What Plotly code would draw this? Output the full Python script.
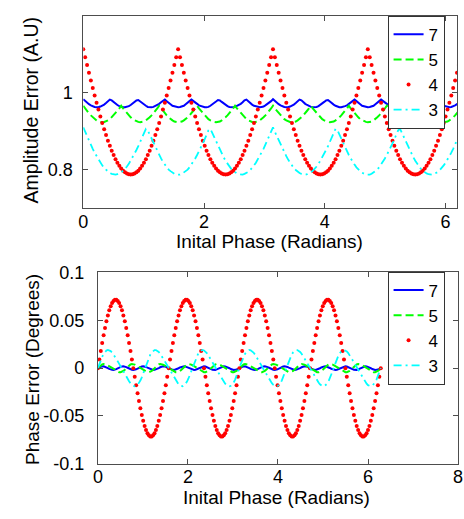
import plotly.graph_objects as go

# Initial phase samples (radians), 0 .. 2*pi
phase = [
    0, 0.031, 0.063, 0.094, 0.126, 0.157, 0.188, 0.220, 0.251, 0.283,
    0.314, 0.346, 0.377, 0.408, 0.440, 0.471, 0.503, 0.534, 0.565, 0.597,
    0.628, 0.660, 0.691, 0.723, 0.754, 0.785, 0.817, 0.848, 0.880, 0.911,
    0.942, 0.974, 1.005, 1.037, 1.068, 1.100, 1.131, 1.162, 1.194, 1.225,
    1.257, 1.288, 1.319, 1.351, 1.382, 1.414, 1.445, 1.477, 1.508, 1.539,
    1.571, 1.602, 1.634, 1.665, 1.696, 1.728, 1.759, 1.791, 1.822, 1.854,
    1.885, 1.916, 1.948, 1.979, 2.011, 2.042, 2.073, 2.105, 2.136, 2.168,
    2.199, 2.231, 2.262, 2.293, 2.325, 2.356, 2.388, 2.419, 2.450, 2.482,
    2.513, 2.545, 2.576, 2.608, 2.639, 2.670, 2.702, 2.733, 2.765, 2.796,
    2.827, 2.859, 2.890, 2.922, 2.953, 2.985, 3.016, 3.047, 3.079, 3.110,
    3.142, 3.173, 3.204, 3.236, 3.267, 3.299, 3.330, 3.362, 3.393, 3.424,
    3.456, 3.487, 3.519, 3.550, 3.581, 3.613, 3.644, 3.676, 3.707, 3.738,
    3.770, 3.801, 3.833, 3.864, 3.896, 3.927, 3.958, 3.990, 4.021, 4.053,
    4.084, 4.115, 4.147, 4.178, 4.210, 4.241, 4.273, 4.304, 4.335, 4.367,
    4.398, 4.430, 4.461, 4.492, 4.524, 4.555, 4.587, 4.618, 4.650, 4.681,
    4.712, 4.744, 4.775, 4.807, 4.838, 4.869, 4.901, 4.932, 4.964, 4.995,
    5.027, 5.058, 5.089, 5.121, 5.152, 5.184, 5.215, 5.246, 5.278, 5.309,
    5.341, 5.372, 5.404, 5.435, 5.466, 5.498, 5.529, 5.561, 5.592, 5.623,
    5.655, 5.686, 5.718, 5.749, 5.781, 5.812, 5.843, 5.875, 5.906, 5.938,
    5.969, 6.000, 6.032, 6.063, 6.095, 6.126, 6.158, 6.189, 6.220, 6.252,
    6.283,
]

# Amplitude error (A.U), one list per number of samples
amp_7 = [
    0.983, 0.978, 0.974, 0.970, 0.967, 0.964, 0.963, 0.962, 0.962, 0.964,
    0.966, 0.969, 0.973, 0.977, 0.982, 0.980, 0.975, 0.971, 0.968, 0.965,
    0.963, 0.962, 0.962, 0.963, 0.965, 0.968, 0.972, 0.976, 0.980, 0.981,
    0.977, 0.972, 0.969, 0.966, 0.963, 0.962, 0.962, 0.963, 0.965, 0.967,
    0.971, 0.975, 0.979, 0.982, 0.978, 0.973, 0.970, 0.966, 0.964, 0.963,
    0.962,
    0.963, 0.964, 0.966, 0.970, 0.973, 0.978, 0.982, 0.979, 0.975, 0.971,
    0.967, 0.965, 0.963, 0.962, 0.962, 0.963, 0.966, 0.969, 0.972, 0.977,
    0.981, 0.980, 0.976, 0.972, 0.968, 0.965, 0.963, 0.962, 0.962, 0.963,
    0.965, 0.968, 0.971, 0.975, 0.980, 0.982, 0.977, 0.973, 0.969, 0.966,
    0.964, 0.962, 0.962, 0.963, 0.964, 0.967, 0.970, 0.974, 0.978, 0.983,
    0.978, 0.974, 0.970, 0.967, 0.964, 0.963, 0.962, 0.962, 0.964,
    0.966, 0.969, 0.973, 0.977, 0.982, 0.980, 0.975, 0.971, 0.968, 0.965,
    0.963, 0.962, 0.962, 0.963, 0.965, 0.968, 0.972, 0.976, 0.980, 0.981,
    0.977, 0.972, 0.969, 0.966, 0.963, 0.962, 0.962, 0.963, 0.965, 0.967,
    0.971, 0.975, 0.979, 0.982, 0.978, 0.973, 0.970, 0.966, 0.964, 0.963,
    0.962,
    0.963, 0.964, 0.966, 0.970, 0.973, 0.978, 0.982, 0.979, 0.975, 0.971,
    0.967, 0.965, 0.963, 0.962, 0.962, 0.963, 0.966, 0.969, 0.972, 0.977,
    0.981, 0.980, 0.976, 0.972, 0.968, 0.965, 0.963, 0.962, 0.962, 0.963,
    0.965, 0.968, 0.971, 0.975, 0.980, 0.982, 0.977, 0.973, 0.969, 0.966,
    0.964, 0.962, 0.962, 0.963, 0.964, 0.967, 0.970, 0.974, 0.978, 0.983,
]

amp_5 = [
    0.966, 0.959, 0.953, 0.946, 0.941, 0.936, 0.931, 0.928, 0.925, 0.924,
    0.923, 0.924, 0.925, 0.928, 0.931, 0.936, 0.941, 0.946, 0.953, 0.959,
    0.966, 0.959, 0.953, 0.946, 0.941, 0.936, 0.931, 0.928, 0.925, 0.924,
    0.923, 0.924, 0.925, 0.928, 0.931, 0.936, 0.941, 0.946, 0.953, 0.959,
    0.966, 0.959, 0.953, 0.946, 0.941, 0.936, 0.931, 0.928, 0.925, 0.924,
    0.923, 0.924, 0.925, 0.928, 0.931, 0.936, 0.941, 0.946, 0.953, 0.959,
    0.966, 0.959, 0.953, 0.946, 0.941, 0.936, 0.931, 0.928, 0.925, 0.924,
    0.923, 0.924, 0.925, 0.928, 0.931, 0.936, 0.941, 0.946, 0.953, 0.959,
    0.966, 0.959, 0.953, 0.946, 0.941, 0.936, 0.931, 0.928, 0.925, 0.924,
    0.923, 0.924, 0.925, 0.928, 0.931, 0.936, 0.941, 0.946, 0.953, 0.959,
    0.966, 0.959, 0.953, 0.946, 0.941, 0.936, 0.931, 0.928, 0.925, 0.924,
    0.923, 0.924, 0.925, 0.928, 0.931, 0.936, 0.941, 0.946, 0.953, 0.959,
    0.966, 0.959, 0.953, 0.946, 0.941, 0.936, 0.931, 0.928, 0.925, 0.924,
    0.923, 0.924, 0.925, 0.928, 0.931, 0.936, 0.941, 0.946, 0.953, 0.959,
    0.966, 0.959, 0.953, 0.946, 0.941, 0.936, 0.931, 0.928, 0.925, 0.924,
    0.923, 0.924, 0.925, 0.928, 0.931, 0.936, 0.941, 0.946, 0.953, 0.959,
    0.966, 0.959, 0.953, 0.946, 0.941, 0.936, 0.931, 0.928, 0.925, 0.924,
    0.923, 0.924, 0.925, 0.928, 0.931, 0.936, 0.941, 0.946, 0.953, 0.959,
    0.966, 0.959, 0.953, 0.946, 0.941, 0.936, 0.931, 0.928, 0.925, 0.924,
    0.923, 0.924, 0.925, 0.928, 0.931, 0.936, 0.941, 0.946, 0.953, 0.959,
    0.966,
]

amp_4 = [
    1.113, 1.092, 1.072, 1.052, 1.032, 1.012, 0.993, 0.974, 0.956, 0.938,
    0.921, 0.905, 0.890, 0.875, 0.862, 0.849, 0.838, 0.827, 0.818, 0.810,
    0.803, 0.797, 0.793, 0.790, 0.788, 0.787, 0.788, 0.790, 0.793, 0.797,
    0.803, 0.810, 0.818, 0.827, 0.838, 0.849, 0.862, 0.875, 0.890, 0.905,
    0.921, 0.938, 0.956, 0.974, 0.993, 1.012, 1.032, 1.052, 1.072, 1.092,
    1.113, 1.092, 1.072, 1.052, 1.032, 1.012, 0.993, 0.974, 0.956, 0.938,
    0.921, 0.905, 0.890, 0.875, 0.862, 0.849, 0.838, 0.827, 0.818, 0.810,
    0.803, 0.797, 0.793, 0.790, 0.788, 0.787, 0.788, 0.790, 0.793, 0.797,
    0.803, 0.810, 0.818, 0.827, 0.838, 0.849, 0.862, 0.875, 0.890, 0.905,
    0.921, 0.938, 0.956, 0.974, 0.993, 1.012, 1.032, 1.052, 1.072, 1.092,
    1.113, 1.092, 1.072, 1.052, 1.032, 1.012, 0.993, 0.974, 0.956, 0.938,
    0.921, 0.905, 0.890, 0.875, 0.862, 0.849, 0.838, 0.827, 0.818, 0.810,
    0.803, 0.797, 0.793, 0.790, 0.788, 0.787, 0.788, 0.790, 0.793, 0.797,
    0.803, 0.810, 0.818, 0.827, 0.838, 0.849, 0.862, 0.875, 0.890, 0.905,
    0.921, 0.938, 0.956, 0.974, 0.993, 1.012, 1.032, 1.052, 1.072, 1.092,
    1.113, 1.092, 1.072, 1.052, 1.032, 1.012, 0.993, 0.974, 0.956, 0.938,
    0.921, 0.905, 0.890, 0.875, 0.862, 0.849, 0.838, 0.827, 0.818, 0.810,
    0.803, 0.797, 0.793, 0.790, 0.788, 0.787, 0.788, 0.790, 0.793, 0.797,
    0.803, 0.810, 0.818, 0.827, 0.838, 0.849, 0.862, 0.875, 0.890, 0.905,
    0.921, 0.938, 0.956, 0.974, 0.993, 1.012, 1.032, 1.052, 1.072, 1.092,
    1.113,
]

amp_3 = [
    0.910, 0.898, 0.887, 0.876, 0.865, 0.854, 0.844, 0.835, 0.826, 0.818,
    0.811, 0.804, 0.799, 0.794, 0.791, 0.789, 0.787, 0.787, 0.788, 0.790,
    0.793, 0.797, 0.802, 0.808, 0.815, 0.823, 0.832, 0.841, 0.851, 0.861,
    0.872, 0.883, 0.895, 0.906, 0.902, 0.891, 0.879, 0.868, 0.858, 0.847,
    0.838, 0.829, 0.820, 0.813, 0.806, 0.800, 0.796, 0.792, 0.789, 0.787,
    0.787,
    0.787, 0.789, 0.792, 0.796, 0.800, 0.806, 0.813, 0.820, 0.829, 0.838,
    0.847, 0.858, 0.868, 0.879, 0.891, 0.902, 0.906, 0.895, 0.883, 0.872,
    0.861, 0.851, 0.841, 0.832, 0.823, 0.815, 0.808, 0.802, 0.797, 0.793,
    0.790, 0.788, 0.787, 0.787, 0.789, 0.791, 0.794, 0.799, 0.804, 0.811,
    0.818, 0.826, 0.835, 0.844, 0.854, 0.865, 0.876, 0.887, 0.898, 0.910,
    0.898, 0.887, 0.876, 0.865, 0.854, 0.844, 0.835, 0.826, 0.818,
    0.811, 0.804, 0.799, 0.794, 0.791, 0.789, 0.787, 0.787, 0.788, 0.790,
    0.793, 0.797, 0.802, 0.808, 0.815, 0.823, 0.832, 0.841, 0.851, 0.861,
    0.872, 0.883, 0.895, 0.906, 0.902, 0.891, 0.879, 0.868, 0.858, 0.847,
    0.838, 0.829, 0.820, 0.813, 0.806, 0.800, 0.796, 0.792, 0.789, 0.787,
    0.787,
    0.787, 0.789, 0.792, 0.796, 0.800, 0.806, 0.813, 0.820, 0.829, 0.838,
    0.847, 0.858, 0.868, 0.879, 0.891, 0.902, 0.906, 0.895, 0.883, 0.872,
    0.861, 0.851, 0.841, 0.832, 0.823, 0.815, 0.808, 0.802, 0.797, 0.793,
    0.790, 0.788, 0.787, 0.787, 0.789, 0.791, 0.794, 0.799, 0.804, 0.811,
    0.818, 0.826, 0.835, 0.844, 0.854, 0.865, 0.876, 0.887, 0.898, 0.910,
]

# Phase error (degrees)
ph_7 = [
    0, 0.0008, 0.0015, 0.0018, 0.0019, 0.0015, 0.0009, 0.0001, -0.0007, -0.0014,
    -0.0018, -0.0019, -0.0016, -0.0010, -0.0002, 0.0006, 0.0013, 0.0018, 0.0019, 0.0017,
    0.0011, 0.0004, -0.0005, -0.0012, -0.0017, -0.0019, -0.0017, -0.0012, -0.0005, 0.0004,
    0.0011, 0.0017, 0.0019, 0.0018, 0.0013, 0.0006, -0.0002, -0.0010, -0.0016, -0.0019,
    -0.0018, -0.0014, -0.0007, 0.0001, 0.0009, 0.0015, 0.0019, 0.0018, 0.0015, 0.0008,
    0,
    -0.0008, -0.0015, -0.0018, -0.0019, -0.0015, -0.0009, -0.0001, 0.0007, 0.0014, 0.0018,
    0.0019, 0.0016, 0.0010, 0.0002, -0.0006, -0.0013, -0.0018, -0.0019, -0.0017, -0.0011,
    -0.0004, 0.0005, 0.0012, 0.0017, 0.0019, 0.0017, 0.0012, 0.0005, -0.0004, -0.0011,
    -0.0017, -0.0019, -0.0018, -0.0013, -0.0006, 0.0002, 0.0010, 0.0016, 0.0019, 0.0018,
    0.0014, 0.0007, -0.0001, -0.0009, -0.0015, -0.0019, -0.0018, -0.0015, -0.0008, 0,
    0.0008, 0.0015, 0.0018, 0.0019, 0.0015, 0.0009, 0.0001, -0.0007, -0.0014,
    -0.0018, -0.0019, -0.0016, -0.0010, -0.0002, 0.0006, 0.0013, 0.0018, 0.0019, 0.0017,
    0.0011, 0.0004, -0.0005, -0.0012, -0.0017, -0.0019, -0.0017, -0.0012, -0.0005, 0.0004,
    0.0011, 0.0017, 0.0019, 0.0018, 0.0013, 0.0006, -0.0002, -0.0010, -0.0016, -0.0019,
    -0.0018, -0.0014, -0.0007, 0.0001, 0.0009, 0.0015, 0.0019, 0.0018, 0.0015, 0.0008,
    0,
    -0.0008, -0.0015, -0.0018, -0.0019, -0.0015, -0.0009, -0.0001, 0.0007, 0.0014, 0.0018,
    0.0019, 0.0016, 0.0010, 0.0002, -0.0006, -0.0013, -0.0018, -0.0019, -0.0017, -0.0011,
    -0.0004, 0.0005, 0.0012, 0.0017, 0.0019, 0.0017, 0.0012, 0.0005, -0.0004, -0.0011,
    -0.0017, -0.0019, -0.0018, -0.0013, -0.0006, 0.0002, 0.0010, 0.0016, 0.0019, 0.0018,
    0.0014, 0.0007, -0.0001, -0.0009, -0.0015, -0.0019, -0.0018, -0.0015, -0.0008, 0,
]

ph_5 = [
    0, 0.0016, 0.0029, 0.0039, 0.0043, 0.0042, 0.0037, 0.0029, 0.0020, 0.0010,
    0, -0.0010, -0.0020, -0.0029, -0.0037, -0.0042, -0.0043, -0.0039, -0.0029, -0.0016,
    0, 0.0016, 0.0029, 0.0039, 0.0043, 0.0042, 0.0037, 0.0029, 0.0020, 0.0010,
    0, -0.0010, -0.0020, -0.0029, -0.0037, -0.0042, -0.0043, -0.0039, -0.0029, -0.0016,
    0, 0.0016, 0.0029, 0.0039, 0.0043, 0.0042, 0.0037, 0.0029, 0.0020, 0.0010,
    0, -0.0010, -0.0020, -0.0029, -0.0037, -0.0042, -0.0043, -0.0039, -0.0029, -0.0016,
    0, 0.0016, 0.0029, 0.0039, 0.0043, 0.0042, 0.0037, 0.0029, 0.0020, 0.0010,
    0, -0.0010, -0.0020, -0.0029, -0.0037, -0.0042, -0.0043, -0.0039, -0.0029, -0.0016,
    0, 0.0016, 0.0029, 0.0039, 0.0043, 0.0042, 0.0037, 0.0029, 0.0020, 0.0010,
    0, -0.0010, -0.0020, -0.0029, -0.0037, -0.0042, -0.0043, -0.0039, -0.0029, -0.0016,
    0, 0.0016, 0.0029, 0.0039, 0.0043, 0.0042, 0.0037, 0.0029, 0.0020, 0.0010,
    0, -0.0010, -0.0020, -0.0029, -0.0037, -0.0042, -0.0043, -0.0039, -0.0029, -0.0016,
    0, 0.0016, 0.0029, 0.0039, 0.0043, 0.0042, 0.0037, 0.0029, 0.0020, 0.0010,
    0, -0.0010, -0.0020, -0.0029, -0.0037, -0.0042, -0.0043, -0.0039, -0.0029, -0.0016,
    0, 0.0016, 0.0029, 0.0039, 0.0043, 0.0042, 0.0037, 0.0029, 0.0020, 0.0010,
    0, -0.0010, -0.0020, -0.0029, -0.0037, -0.0042, -0.0043, -0.0039, -0.0029, -0.0016,
    0, 0.0016, 0.0029, 0.0039, 0.0043, 0.0042, 0.0037, 0.0029, 0.0020, 0.0010,
    0, -0.0010, -0.0020, -0.0029, -0.0037, -0.0042, -0.0043, -0.0039, -0.0029, -0.0016,
    0, 0.0016, 0.0029, 0.0039, 0.0043, 0.0042, 0.0037, 0.0029, 0.0020, 0.0010,
    0, -0.0010, -0.0020, -0.0029, -0.0037, -0.0042, -0.0043, -0.0039, -0.0029, -0.0016,
    0,
]

ph_4 = [
    0, 0.0090, 0.0178, 0.0263, 0.0344, 0.0420, 0.0489, 0.0551, 0.0604, 0.0647,
    0.0680, 0.0702, 0.0714, 0.0714, 0.0702, 0.0680, 0.0647, 0.0604, 0.0551, 0.0489,
    0.0420, 0.0344, 0.0263, 0.0178, 0.0090, 0, -0.0090, -0.0178, -0.0263, -0.0344,
    -0.0420, -0.0489, -0.0551, -0.0604, -0.0647, -0.0680, -0.0702, -0.0714, -0.0714, -0.0702,
    -0.0680, -0.0647, -0.0604, -0.0551, -0.0489, -0.0420, -0.0344, -0.0263, -0.0178, -0.0090,
    0, 0.0090, 0.0178, 0.0263, 0.0344, 0.0420, 0.0489, 0.0551, 0.0604, 0.0647,
    0.0680, 0.0702, 0.0714, 0.0714, 0.0702, 0.0680, 0.0647, 0.0604, 0.0551, 0.0489,
    0.0420, 0.0344, 0.0263, 0.0178, 0.0090, 0, -0.0090, -0.0178, -0.0263, -0.0344,
    -0.0420, -0.0489, -0.0551, -0.0604, -0.0647, -0.0680, -0.0702, -0.0714, -0.0714, -0.0702,
    -0.0680, -0.0647, -0.0604, -0.0551, -0.0489, -0.0420, -0.0344, -0.0263, -0.0178, -0.0090,
    0, 0.0090, 0.0178, 0.0263, 0.0344, 0.0420, 0.0489, 0.0551, 0.0604, 0.0647,
    0.0680, 0.0702, 0.0714, 0.0714, 0.0702, 0.0680, 0.0647, 0.0604, 0.0551, 0.0489,
    0.0420, 0.0344, 0.0263, 0.0178, 0.0090, 0, -0.0090, -0.0178, -0.0263, -0.0344,
    -0.0420, -0.0489, -0.0551, -0.0604, -0.0647, -0.0680, -0.0702, -0.0714, -0.0714, -0.0702,
    -0.0680, -0.0647, -0.0604, -0.0551, -0.0489, -0.0420, -0.0344, -0.0263, -0.0178, -0.0090,
    0, 0.0090, 0.0178, 0.0263, 0.0344, 0.0420, 0.0489, 0.0551, 0.0604, 0.0647,
    0.0680, 0.0702, 0.0714, 0.0714, 0.0702, 0.0680, 0.0647, 0.0604, 0.0551, 0.0489,
    0.0420, 0.0344, 0.0263, 0.0178, 0.0090, 0, -0.0090, -0.0178, -0.0263, -0.0344,
    -0.0420, -0.0489, -0.0551, -0.0604, -0.0647, -0.0680, -0.0702, -0.0714, -0.0714, -0.0702,
    -0.0680, -0.0647, -0.0604, -0.0551, -0.0489, -0.0420, -0.0344, -0.0263, -0.0178, -0.0090,
    0,
]

ph_3 = [
    0, 0.0043, 0.0083, 0.0119, 0.0149, 0.0171, 0.0184, 0.0190, 0.0187, 0.0178,
    0.0163, 0.0144, 0.0121, 0.0096, 0.0071, 0.0044, 0.0018, -0.0009, -0.0035, -0.0062,
    -0.0088, -0.0113, -0.0136, -0.0157, -0.0174, -0.0185, -0.0190, -0.0187, -0.0176, -0.0157,
    -0.0130, -0.0096, -0.0057, -0.0014, 0.0029, 0.0070, 0.0108, 0.0140, 0.0164, 0.0181,
    0.0189, 0.0189, 0.0182, 0.0169, 0.0150, 0.0129, 0.0105, 0.0079, 0.0053, 0.0027,
    0,
    -0.0027, -0.0053, -0.0079, -0.0105, -0.0129, -0.0150, -0.0169, -0.0182, -0.0189, -0.0189,
    -0.0181, -0.0164, -0.0140, -0.0108, -0.0070, -0.0029, 0.0014, 0.0057, 0.0096, 0.0130,
    0.0157, 0.0176, 0.0187, 0.0190, 0.0185, 0.0174, 0.0157, 0.0136, 0.0113, 0.0088,
    0.0062, 0.0035, 0.0009, -0.0018, -0.0044, -0.0071, -0.0096, -0.0121, -0.0144, -0.0163,
    -0.0178, -0.0187, -0.0190, -0.0184, -0.0171, -0.0149, -0.0119, -0.0083, -0.0043, 0,
    0.0043, 0.0083, 0.0119, 0.0149, 0.0171, 0.0184, 0.0190, 0.0187, 0.0178,
    0.0163, 0.0144, 0.0121, 0.0096, 0.0071, 0.0044, 0.0018, -0.0009, -0.0035, -0.0062,
    -0.0088, -0.0113, -0.0136, -0.0157, -0.0174, -0.0185, -0.0190, -0.0187, -0.0176, -0.0157,
    -0.0130, -0.0096, -0.0057, -0.0014, 0.0029, 0.0070, 0.0108, 0.0140, 0.0164, 0.0181,
    0.0189, 0.0189, 0.0182, 0.0169, 0.0150, 0.0129, 0.0105, 0.0079, 0.0053, 0.0027,
    0,
    -0.0027, -0.0053, -0.0079, -0.0105, -0.0129, -0.0150, -0.0169, -0.0182, -0.0189, -0.0189,
    -0.0181, -0.0164, -0.0140, -0.0108, -0.0070, -0.0029, 0.0014, 0.0057, 0.0096, 0.0130,
    0.0157, 0.0176, 0.0187, 0.0190, 0.0185, 0.0174, 0.0157, 0.0136, 0.0113, 0.0088,
    0.0062, 0.0035, 0.0009, -0.0018, -0.0044, -0.0071, -0.0096, -0.0121, -0.0144, -0.0163,
    -0.0178, -0.0187, -0.0190, -0.0184, -0.0171, -0.0149, -0.0119, -0.0083, -0.0043, 0,
]

series_names = ["7", "5", "4", "3"]
top_x_ticks = [0, 2, 4, 6]
top_y_ticks = [0.8, 1.0]
top_y_labels = ["0.8", "1"]
bot_x_ticks = [0, 2, 4, 6, 8]
bot_y_ticks = [-0.1, -0.05, 0, 0.05, 0.1]
bot_y_labels = ["-0.1", "-0.05", "0", "0.05", "0.1"]

for s in (amp_7, amp_5, amp_4, amp_3, ph_7, ph_5, ph_4, ph_3):
    assert len(s) == len(phase), len(s)

W, H = 464, 519


def px(xp):
    return xp / W


def py(yp):
    return 1 - yp / H


FONT = "Liberation Sans, Arial, Helvetica, sans-serif"
AXC = "#4d4d4d"

styles = {
    "7": dict(mode="lines", line=dict(color="#0000ff", width=2)),
    "5": dict(mode="lines", line=dict(color="#00ff00", width=2, dash="8px,4px")),
    "4": dict(mode="markers", marker=dict(color="#ff0000", size=4, symbol="circle")),
    "3": dict(mode="lines", line=dict(color="#00ffff", width=1.8, dash="8px,4px,2px,4px")),
}

fig = go.Figure()
for name, ys in zip(series_names, (amp_7, amp_5, amp_4, amp_3)):
    fig.add_trace(go.Scatter(x=phase, y=ys, name=name, xaxis="x", yaxis="y",
                             legend="legend", **styles[name]))
for name, ys in zip(series_names, (ph_7, ph_5, ph_4, ph_3)):
    fig.add_trace(go.Scatter(x=phase, y=ys, name=name, xaxis="x2", yaxis="y2",
                             legend="legend2", **styles[name]))

axis_common = dict(showline=True, linecolor=AXC, linewidth=1, mirror="ticks",
                   ticks="inside", ticklen=5, tickcolor=AXC, tickwidth=1,
                   showgrid=False, zeroline=False,
                   tickfont=dict(family=FONT, size=18, color="#000000"))

legend_common = dict(xanchor="left", yanchor="top", bgcolor="white",
                     bordercolor="#333333", borderwidth=1,
                     font=dict(family=FONT, size=17, color="#000000"),
                     tracegroupgap=0, itemwidth=30)

fig.update_layout(
    width=W, height=H,
    margin=dict(l=0, r=0, t=0, b=0),
    paper_bgcolor="white", plot_bgcolor="white",
    font=dict(family=FONT, size=18, color="#000000"),
    xaxis=dict(domain=[px(80), px(462)], range=[0, 6.19], anchor="y",
               tickmode="array", tickvals=top_x_ticks, ticklabelstandoff=-3,
               **axis_common),
    yaxis=dict(domain=[py(206), py(6)], range=[0.7, 1.2], anchor="x",
               tickmode="array", tickvals=top_y_ticks, ticktext=top_y_labels,
               ticklabelstandoff=6, **axis_common),
    xaxis2=dict(domain=[px(95), px(463)], range=[0, 8], anchor="y2",
                tickmode="array", tickvals=bot_x_ticks, ticklabelstandoff=-3,
                ticklabeloverflow="allow", **axis_common),
    yaxis2=dict(domain=[py(472), py(273)], range=[-0.1, 0.1], anchor="x2",
                tickmode="array", tickvals=bot_y_ticks, ticktext=bot_y_labels,
                ticklabelstandoff=9, **axis_common),
    legend=dict(x=px(391), y=py(6), **legend_common),
    legend2=dict(x=px(391), y=py(272), **legend_common),
    showlegend=True,
)

title_font = dict(family=FONT, size=19, color="#000000")
fig.add_annotation(text="Amplitude Error (A.U)", textangle=-90, xref="paper", yref="paper",
                   x=px(27), y=py(104), xanchor="center", yanchor="middle",
                   showarrow=False, font=dict(family=FONT, size=19.5, color="#000000"))
fig.add_annotation(text="Inital Phase (Radians)", xref="paper", yref="paper",
                   x=px(270), y=py(241), xanchor="center", yanchor="middle",
                   showarrow=False, font=title_font)
fig.add_annotation(text="Phase Error (Degrees)", textangle=-90, xref="paper", yref="paper",
                   x=px(28), y=py(374), xanchor="center", yanchor="middle",
                   showarrow=False, font=title_font)
fig.add_annotation(text="Inital Phase (Radians)", xref="paper", yref="paper",
                   x=px(277), y=py(507), xanchor="center", yanchor="middle",
                   showarrow=False, font=title_font)

# Remove the browser's default page margin so the figure sits at the window origin.
fig.write_html("out.html", config={"displayModeBar": False},
               post_script="document.body.style.margin='0px';")
